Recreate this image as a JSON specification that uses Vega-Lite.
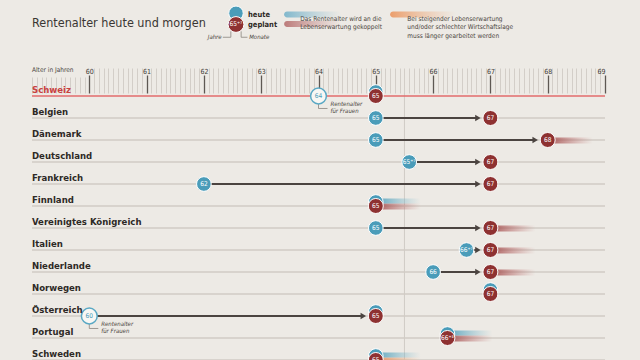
{
  "$schema": "https://vega.github.io/schema/vega-lite/v6.json",
  "width": 573,
  "height": 360,
  "autosize": {"type": "none"},
  "padding": {"left": 32, "right": 35, "top": 0, "bottom": 0},
  "background": "#edeae5",
  "config": {"view": {"stroke": null}, "font": "'DejaVu Sans Condensed', 'Liberation Sans Narrow', Roboto, sans-serif"},
  "datasets": {
    "laender": [
      {"land": "Schweiz", "reihe": 0, "heute": 65, "heuteText": "65", "geplant": 65, "geplantText": "65", "von": null, "frauen": 64, "frauenText": "64", "kopplungHeute": false, "kopplungGeplant": false, "zusatz": false},
      {"land": "Belgien", "reihe": 1, "heute": 65, "heuteText": "65", "geplant": 67, "geplantText": "67", "von": 65, "frauen": null, "frauenText": null, "kopplungHeute": false, "kopplungGeplant": false, "zusatz": false},
      {"land": "Dänemark", "reihe": 2, "heute": 65, "heuteText": "65", "geplant": 68, "geplantText": "68", "von": 65, "frauen": null, "frauenText": null, "kopplungHeute": false, "kopplungGeplant": true, "zusatz": false},
      {"land": "Deutschland", "reihe": 3, "heute": 65.5833, "heuteText": "65⁺⁷", "geplant": 67, "geplantText": "67", "von": 65.5833, "frauen": null, "frauenText": null, "kopplungHeute": false, "kopplungGeplant": false, "zusatz": false},
      {"land": "Frankreich", "reihe": 4, "heute": 62, "heuteText": "62", "geplant": 67, "geplantText": "67", "von": 62, "frauen": null, "frauenText": null, "kopplungHeute": false, "kopplungGeplant": false, "zusatz": false},
      {"land": "Finnland", "reihe": 5, "heute": 65, "heuteText": "65", "geplant": 65, "geplantText": "65", "von": null, "frauen": null, "frauenText": null, "kopplungHeute": true, "kopplungGeplant": true, "zusatz": false},
      {"land": "Vereinigtes Königreich", "reihe": 6, "heute": 65, "heuteText": "65", "geplant": 67, "geplantText": "67", "von": 65, "frauen": null, "frauenText": null, "kopplungHeute": false, "kopplungGeplant": true, "zusatz": false},
      {"land": "Italien", "reihe": 7, "heute": 66.5833, "heuteText": "66⁺⁷", "geplant": 67, "geplantText": "67", "von": 66.5833, "frauen": null, "frauenText": null, "kopplungHeute": false, "kopplungGeplant": true, "zusatz": false},
      {"land": "Niederlande", "reihe": 8, "heute": 66, "heuteText": "66", "geplant": 67, "geplantText": "67", "von": 66, "frauen": null, "frauenText": null, "kopplungHeute": false, "kopplungGeplant": true, "zusatz": false},
      {"land": "Norwegen", "reihe": 9, "heute": 67, "heuteText": "67", "geplant": 67, "geplantText": "67", "von": null, "frauen": null, "frauenText": null, "kopplungHeute": false, "kopplungGeplant": false, "zusatz": false},
      {"land": "Österreich", "reihe": 10, "heute": 65, "heuteText": "65", "geplant": 65, "geplantText": "65", "von": 60, "frauen": 60, "frauenText": "60", "kopplungHeute": false, "kopplungGeplant": false, "zusatz": false},
      {"land": "Portugal", "reihe": 11, "heute": 66.25, "heuteText": "66⁺³", "geplant": 66.25, "geplantText": "66⁺³", "von": null, "frauen": null, "frauenText": null, "kopplungHeute": true, "kopplungGeplant": true, "zusatz": false},
      {"land": "Schweden", "reihe": 12, "heute": 65, "heuteText": "65", "geplant": 65, "geplantText": "65", "von": null, "frauen": null, "frauenText": null, "kopplungHeute": true, "kopplungGeplant": false, "zusatz": true}
    ]
  },
  "data": {"values": [{}]},
  "resolve": {"axis": {"x": "independent"}},
  "layer": [
    {
      "mark": {"type": "rule", "color": "#d0cbc5", "strokeWidth": 1},
      "encoding": {
        "x": {"datum": 65.5, "type": "quantitative", "scale": {"domain": [59, 69], "nice": false, "zero": false},
          "axis": {"orient": "top", "offset": -93, "domain": false, "grid": false, "labels": false, "tickSize": 25, "tickColor": "#d3cec8", "tickWidth": 1,
            "values": [60.0833,60.1667,60.25,60.3333,60.4167,60.5,60.5833,60.6667,60.75,60.8333,60.9167,
                       61.0833,61.1667,61.25,61.3333,61.4167,61.5,61.5833,61.6667,61.75,61.8333,61.9167,
                       62.0833,62.1667,62.25,62.3333,62.4167,62.5,62.5833,62.6667,62.75,62.8333,62.9167,
                       63.0833,63.1667,63.25,63.3333,63.4167,63.5,63.5833,63.6667,63.75,63.8333,63.9167,
                       64.0833,64.1667,64.25,64.3333,64.4167,64.5,64.5833,64.6667,64.75,64.8333,64.9167,
                       65.0833,65.1667,65.25,65.3333,65.4167,65.5,65.5833,65.6667,65.75,65.8333,65.9167,
                       66.0833,66.1667,66.25,66.3333,66.4167,66.5,66.5833,66.6667,66.75,66.8333,66.9167,
                       67.0833,67.1667,67.25,67.3333,67.4167,67.5,67.5833,67.6667,67.75,67.8333,67.9167,
                       68.0833,68.1667,68.25,68.3333,68.4167,68.5,68.5833,68.6667,68.75,68.8333,68.9167]}},
        "y": {"datum": -0.14, "type": "quantitative", "scale": {"domain": [-4.3636, 12], "reverse": true, "nice": false, "zero": false}, "axis": null},
        "y2": {"datum": 12.5}
      }
    },
    {
      "data": {"name": "laender"},
      "transform": [{"filter": "datum.land !== 'Schweiz'"}],
      "mark": {"type": "rule", "color": "#d0cbc5", "strokeWidth": 1.5},
      "encoding": {
        "x": {"datum": 59, "type": "quantitative", "scale": {"domain": [59, 69], "nice": false, "zero": false},
          "axis": {"orient": "top", "offset": -93, "domain": false, "grid": false, "labels": false, "tickSize": 16, "tickColor": "#d3cec8", "tickWidth": 1,
            "values": [59, 59.0833, 59.1667, 59.25, 59.3333, 59.4167, 59.5, 59.5833, 59.6667, 59.75, 59.8333, 59.9167]}},
        "x2": {"datum": 69},
        "y": {"field": "reihe", "type": "quantitative", "scale": {"domain": [-4.3636, 12], "reverse": true, "nice": false, "zero": false}, "axis": null}
      }
    },
    {
      "data": {"name": "laender"},
      "transform": [{"filter": "datum.land === 'Schweiz'"}],
      "mark": {"type": "rule", "color": "#e26b6b", "strokeWidth": 1.3},
      "encoding": {
        "x": {"datum": 59, "type": "quantitative", "scale": {"domain": [59, 69], "nice": false, "zero": false},
          "axis": {"orient": "top", "offset": -93, "domain": false, "grid": false, "tickSize": 18, "tickColor": "#5e5853", "tickWidth": 1.3,
            "values": [60, 61, 62, 63, 64, 65, 66, 67, 68, 69], "format": "d", "labelPadding": 1,
            "labelFont": "'DejaVu Sans Condensed', 'Liberation Sans Narrow', Roboto, sans-serif", "labelFontSize": 7, "labelColor": "#3f3a36"}},
        "x2": {"datum": 69},
        "y": {"field": "reihe", "type": "quantitative", "scale": {"domain": [-4.3636, 12], "reverse": true, "nice": false, "zero": false}, "axis": null}
      }
    },
    {
      "data": {"name": "laender"},
      "transform": [{"filter": "datum.kopplungGeplant"}],
      "mark": {"type": "rect", "x2Offset": 45, "yOffset": -2.5, "y2Offset": 3.5,
        "fill": {"gradient": "linear", "x1": 0, "y1": 0, "x2": 1, "y2": 0, "stops": [{"offset": 0, "color": "rgba(160,70,70,0.9)"}, {"offset": 1, "color": "rgba(190,110,110,0)"}]}},
      "encoding": {
        "x": {"field": "geplant", "type": "quantitative", "scale": {"domain": [59, 69], "nice": false, "zero": false}, "axis": null},
        "x2": {"field": "geplant"},
        "y": {"field": "reihe", "type": "quantitative", "scale": {"domain": [-4.3636, 12], "reverse": true, "nice": false, "zero": false}, "axis": null},
        "y2": {"field": "reihe"}
      }
    },
    {
      "data": {"name": "laender"},
      "transform": [{"filter": "datum.zusatz"}],
      "mark": {"type": "rect", "x2Offset": 45, "yOffset": -2.5, "y2Offset": 3.5,
        "fill": {"gradient": "linear", "x1": 0, "y1": 0, "x2": 1, "y2": 0, "stops": [{"offset": 0, "color": "rgba(232,140,90,0.95)"}, {"offset": 1, "color": "rgba(240,170,120,0)"}]}},
      "encoding": {
        "x": {"field": "geplant", "type": "quantitative", "scale": {"domain": [59, 69], "nice": false, "zero": false}, "axis": null},
        "x2": {"field": "geplant"},
        "y": {"field": "reihe", "type": "quantitative", "scale": {"domain": [-4.3636, 12], "reverse": true, "nice": false, "zero": false}, "axis": null},
        "y2": {"field": "reihe"}
      }
    },
    {
      "data": {"name": "laender"},
      "transform": [{"filter": "datum.kopplungHeute"}],
      "mark": {"type": "rect", "x2Offset": 45, "yOffset": -7.5, "y2Offset": -2.5,
        "fill": {"gradient": "linear", "x1": 0, "y1": 0, "x2": 1, "y2": 0, "stops": [{"offset": 0, "color": "rgba(74,156,185,0.9)"}, {"offset": 1, "color": "rgba(120,185,205,0)"}]}},
      "encoding": {
        "x": {"field": "heute", "type": "quantitative", "scale": {"domain": [59, 69], "nice": false, "zero": false}, "axis": null},
        "x2": {"field": "heute"},
        "y": {"field": "reihe", "type": "quantitative", "scale": {"domain": [-4.3636, 12], "reverse": true, "nice": false, "zero": false}, "axis": null},
        "y2": {"field": "reihe"}
      }
    },
    {
      "data": {"name": "laender"},
      "transform": [{"filter": "datum.von != null"}],
      "mark": {"type": "rule", "color": "#4b4440", "strokeWidth": 2, "x2Offset": -13},
      "encoding": {
        "x": {"field": "von", "type": "quantitative", "scale": {"domain": [59, 69], "nice": false, "zero": false}, "axis": null},
        "x2": {"field": "geplant"},
        "y": {"field": "reihe", "type": "quantitative", "scale": {"domain": [-4.3636, 12], "reverse": true, "nice": false, "zero": false}, "axis": null}
      }
    },
    {
      "data": {"name": "laender"},
      "transform": [{"filter": "datum.von != null"}],
      "mark": {"type": "point", "shape": "triangle-right", "filled": true, "fill": "#4b4440", "strokeWidth": 0, "size": 40, "opacity": 1, "xOffset": -12.5},
      "encoding": {
        "x": {"field": "geplant", "type": "quantitative", "scale": {"domain": [59, 69], "nice": false, "zero": false}, "axis": null},
        "y": {"field": "reihe", "type": "quantitative", "scale": {"domain": [-4.3636, 12], "reverse": true, "nice": false, "zero": false}, "axis": null}
      }
    },
    {
      "data": {"name": "laender"},
      "transform": [{"filter": "datum.heute == datum.geplant"}],
      "mark": {"type": "point", "shape": "circle", "filled": true, "fill": "#4a9cb9", "stroke": "#ffffff", "strokeWidth": 1, "size": 215, "opacity": 1, "yOffset": -4},
      "encoding": {
        "x": {"field": "heute", "type": "quantitative", "scale": {"domain": [59, 69], "nice": false, "zero": false}, "axis": null},
        "y": {"field": "reihe", "type": "quantitative", "scale": {"domain": [-4.3636, 12], "reverse": true, "nice": false, "zero": false}, "axis": null}
      }
    },
    {
      "data": {"name": "laender"},
      "transform": [{"filter": "datum.heute != datum.geplant"}],
      "mark": {"type": "point", "shape": "circle", "filled": true, "fill": "#4a9cb9", "stroke": "#ffffff", "strokeWidth": 1, "size": 215, "opacity": 1},
      "encoding": {
        "x": {"field": "heute", "type": "quantitative", "scale": {"domain": [59, 69], "nice": false, "zero": false}, "axis": null},
        "y": {"field": "reihe", "type": "quantitative", "scale": {"domain": [-4.3636, 12], "reverse": true, "nice": false, "zero": false}, "axis": null}
      }
    },
    {
      "data": {"name": "laender"},
      "transform": [{"filter": "datum.heute != datum.geplant"}],
      "mark": {"type": "text", "color": "#ffffff", "fontSize": 6.5, "align": "center", "baseline": "middle"},
      "encoding": {
        "x": {"field": "heute", "type": "quantitative", "scale": {"domain": [59, 69], "nice": false, "zero": false}, "axis": null},
        "y": {"field": "reihe", "type": "quantitative", "scale": {"domain": [-4.3636, 12], "reverse": true, "nice": false, "zero": false}, "axis": null},
        "text": {"field": "heuteText"}
      }
    },
    {
      "data": {"name": "laender"},
      "mark": {"type": "point", "shape": "circle", "filled": true, "fill": "#8e3131", "stroke": "#ffffff", "strokeWidth": 1, "size": 225, "opacity": 1},
      "encoding": {
        "x": {"field": "geplant", "type": "quantitative", "scale": {"domain": [59, 69], "nice": false, "zero": false}, "axis": null},
        "y": {"field": "reihe", "type": "quantitative", "scale": {"domain": [-4.3636, 12], "reverse": true, "nice": false, "zero": false}, "axis": null}
      }
    },
    {
      "data": {"name": "laender"},
      "mark": {"type": "text", "color": "#ffffff", "fontSize": 6.5, "align": "center", "baseline": "middle"},
      "encoding": {
        "x": {"field": "geplant", "type": "quantitative", "scale": {"domain": [59, 69], "nice": false, "zero": false}, "axis": null},
        "y": {"field": "reihe", "type": "quantitative", "scale": {"domain": [-4.3636, 12], "reverse": true, "nice": false, "zero": false}, "axis": null},
        "text": {"field": "geplantText"}
      }
    },
    {
      "data": {"name": "laender"},
      "transform": [{"filter": "datum.frauen != null"}],
      "mark": {"type": "rule", "color": "#8a847e", "strokeWidth": 0.8, "yOffset": 8, "y2Offset": 12.5},
      "encoding": {
        "x": {"field": "frauen", "type": "quantitative", "scale": {"domain": [59, 69], "nice": false, "zero": false}, "axis": null},
        "y": {"field": "reihe", "type": "quantitative", "scale": {"domain": [-4.3636, 12], "reverse": true, "nice": false, "zero": false}, "axis": null},
        "y2": {"field": "reihe"}
      }
    },
    {
      "data": {"name": "laender"},
      "transform": [{"filter": "datum.frauen != null"}],
      "mark": {"type": "rule", "color": "#8a847e", "strokeWidth": 0.8, "yOffset": 12.5, "x2Offset": 9},
      "encoding": {
        "x": {"field": "frauen", "type": "quantitative", "scale": {"domain": [59, 69], "nice": false, "zero": false}, "axis": null},
        "x2": {"field": "frauen"},
        "y": {"field": "reihe", "type": "quantitative", "scale": {"domain": [-4.3636, 12], "reverse": true, "nice": false, "zero": false}, "axis": null}
      }
    },
    {
      "data": {"name": "laender"},
      "transform": [{"filter": "datum.frauen != null"}],
      "mark": {"type": "point", "shape": "circle", "filled": true, "fill": "#f8f7f4", "stroke": "#5aa8c4", "strokeWidth": 1.5, "size": 250, "opacity": 1},
      "encoding": {
        "x": {"field": "frauen", "type": "quantitative", "scale": {"domain": [59, 69], "nice": false, "zero": false}, "axis": null},
        "y": {"field": "reihe", "type": "quantitative", "scale": {"domain": [-4.3636, 12], "reverse": true, "nice": false, "zero": false}, "axis": null}
      }
    },
    {
      "data": {"name": "laender"},
      "transform": [{"filter": "datum.frauen != null"}],
      "mark": {"type": "text", "color": "#4a9cb9", "fontSize": 6.5, "align": "center", "baseline": "middle"},
      "encoding": {
        "x": {"field": "frauen", "type": "quantitative", "scale": {"domain": [59, 69], "nice": false, "zero": false}, "axis": null},
        "y": {"field": "reihe", "type": "quantitative", "scale": {"domain": [-4.3636, 12], "reverse": true, "nice": false, "zero": false}, "axis": null},
        "text": {"field": "frauenText"}
      }
    },
    {
      "data": {"name": "laender"},
      "transform": [{"filter": "datum.frauen != null"}],
      "mark": {"type": "text", "color": "#4b4540", "fontSize": 6, "fontStyle": "italic", "align": "left", "baseline": "top", "dx": 12, "dy": 5, "lineHeight": 7},
      "encoding": {
        "x": {"field": "frauen", "type": "quantitative", "scale": {"domain": [59, 69], "nice": false, "zero": false}, "axis": null},
        "y": {"field": "reihe", "type": "quantitative", "scale": {"domain": [-4.3636, 12], "reverse": true, "nice": false, "zero": false}, "axis": null},
        "text": {"value": ["Rentenalter", "für Frauen"]}
      }
    },
    {
      "data": {"name": "laender"},
      "mark": {"type": "text", "fontSize": 9.5, "fontWeight": "bold", "align": "left", "baseline": "alphabetic", "dy": -3},
      "encoding": {
        "x": {"datum": 59, "type": "quantitative", "scale": {"domain": [59, 69], "nice": false, "zero": false}, "axis": null},
        "y": {"field": "reihe", "type": "quantitative", "scale": {"domain": [-4.3636, 12], "reverse": true, "nice": false, "zero": false}, "axis": null},
        "text": {"field": "land"},
        "color": {"condition": {"test": "datum.land === 'Schweiz'", "value": "#c8413f"}, "value": "#2d2926"}
      }
    },
    {
      "mark": {"type": "text", "fontSize": 12.5, "color": "#3a3633", "align": "left", "baseline": "middle"},
      "encoding": {
        "x": {"datum": 59, "type": "quantitative", "scale": {"domain": [59, 69], "nice": false, "zero": false}, "axis": null},
        "y": {"datum": -3.34, "type": "quantitative", "scale": {"domain": [-4.3636, 12], "reverse": true, "nice": false, "zero": false}, "axis": null},
        "text": {"value": "Rentenalter heute und morgen"}
      }
    },
    {
      "mark": {"type": "text", "fontSize": 6.5, "color": "#4a4541", "align": "left", "baseline": "middle"},
      "encoding": {
        "x": {"datum": 59, "type": "quantitative", "scale": {"domain": [59, 69], "nice": false, "zero": false}, "axis": null},
        "y": {"datum": -1.18, "type": "quantitative", "scale": {"domain": [-4.3636, 12], "reverse": true, "nice": false, "zero": false}, "axis": null},
        "text": {"value": "Alter in Jahren"}
      }
    },
    {
      "mark": {"type": "point", "shape": "circle", "filled": true, "fill": "#4a9cb9", "stroke": "#ffffff", "strokeWidth": 1, "size": 210, "opacity": 1},
      "encoding": {
        "x": {"datum": 62.56, "type": "quantitative", "scale": {"domain": [59, 69], "nice": false, "zero": false}, "axis": null},
        "y": {"datum": -3.76, "type": "quantitative", "scale": {"domain": [-4.3636, 12], "reverse": true, "nice": false, "zero": false}, "axis": null}
      }
    },
    {
      "mark": {"type": "point", "shape": "circle", "filled": true, "fill": "#8e3131", "stroke": "#ffffff", "strokeWidth": 1, "size": 250, "opacity": 1},
      "encoding": {
        "x": {"datum": 62.56, "type": "quantitative", "scale": {"domain": [59, 69], "nice": false, "zero": false}, "axis": null},
        "y": {"datum": -3.25, "type": "quantitative", "scale": {"domain": [-4.3636, 12], "reverse": true, "nice": false, "zero": false}, "axis": null}
      }
    },
    {
      "mark": {"type": "text", "color": "#ffffff", "fontSize": 6.5, "align": "center", "baseline": "middle"},
      "encoding": {
        "x": {"datum": 62.56, "type": "quantitative", "scale": {"domain": [59, 69], "nice": false, "zero": false}, "axis": null},
        "y": {"datum": -3.25, "type": "quantitative", "scale": {"domain": [-4.3636, 12], "reverse": true, "nice": false, "zero": false}, "axis": null},
        "text": {"value": "65⁺⁷"}
      }
    },
    {
      "mark": {"type": "text", "color": "#2d2926", "fontSize": 7.5, "fontWeight": "bold", "align": "left", "baseline": "middle", "lineHeight": 10},
      "encoding": {
        "x": {"datum": 62.77, "type": "quantitative", "scale": {"domain": [59, 69], "nice": false, "zero": false}, "axis": null},
        "y": {"datum": -3.66, "type": "quantitative", "scale": {"domain": [-4.3636, 12], "reverse": true, "nice": false, "zero": false}, "axis": null},
        "text": {"value": ["heute", "geplant"]}
      }
    },
    {
      "mark": {"type": "text", "color": "#4b4540", "fontSize": 6, "fontStyle": "italic", "align": "right", "baseline": "middle"},
      "encoding": {
        "x": {"datum": 62.31, "type": "quantitative", "scale": {"domain": [59, 69], "nice": false, "zero": false}, "axis": null},
        "y": {"datum": -2.67, "type": "quantitative", "scale": {"domain": [-4.3636, 12], "reverse": true, "nice": false, "zero": false}, "axis": null},
        "text": {"value": "Jahre"}
      }
    },
    {
      "mark": {"type": "text", "color": "#4b4540", "fontSize": 6, "fontStyle": "italic", "align": "left", "baseline": "middle"},
      "encoding": {
        "x": {"datum": 62.79, "type": "quantitative", "scale": {"domain": [59, 69], "nice": false, "zero": false}, "axis": null},
        "y": {"datum": -2.67, "type": "quantitative", "scale": {"domain": [-4.3636, 12], "reverse": true, "nice": false, "zero": false}, "axis": null},
        "text": {"value": "Monate"}
      }
    },
    {
      "mark": {"type": "rule", "color": "#8a847e", "strokeWidth": 0.8},
      "encoding": {
        "x": {"datum": 62.33, "type": "quantitative", "scale": {"domain": [59, 69], "nice": false, "zero": false}, "axis": null},
        "x2": {"datum": 62.47},
        "y": {"datum": -2.67, "type": "quantitative", "scale": {"domain": [-4.3636, 12], "reverse": true, "nice": false, "zero": false}, "axis": null}
      }
    },
    {
      "mark": {"type": "rule", "color": "#8a847e", "strokeWidth": 0.8},
      "encoding": {
        "x": {"datum": 62.47, "type": "quantitative", "scale": {"domain": [59, 69], "nice": false, "zero": false}, "axis": null},
        "y": {"datum": -2.94, "type": "quantitative", "scale": {"domain": [-4.3636, 12], "reverse": true, "nice": false, "zero": false}, "axis": null},
        "y2": {"datum": -2.67}
      }
    },
    {
      "mark": {"type": "rule", "color": "#8a847e", "strokeWidth": 0.8},
      "encoding": {
        "x": {"datum": 62.65, "type": "quantitative", "scale": {"domain": [59, 69], "nice": false, "zero": false}, "axis": null},
        "y": {"datum": -2.94, "type": "quantitative", "scale": {"domain": [-4.3636, 12], "reverse": true, "nice": false, "zero": false}, "axis": null},
        "y2": {"datum": -2.67}
      }
    },
    {
      "mark": {"type": "rule", "color": "#8a847e", "strokeWidth": 0.8},
      "encoding": {
        "x": {"datum": 62.65, "type": "quantitative", "scale": {"domain": [59, 69], "nice": false, "zero": false}, "axis": null},
        "x2": {"datum": 62.76},
        "y": {"datum": -2.67, "type": "quantitative", "scale": {"domain": [-4.3636, 12], "reverse": true, "nice": false, "zero": false}, "axis": null}
      }
    },
    {
      "mark": {"type": "rect", "cornerRadius": 3,
        "fill": {"gradient": "linear", "x1": 0, "y1": 0, "x2": 1, "y2": 0, "stops": [{"offset": 0, "color": "rgba(110,175,200,0.85)"}, {"offset": 1, "color": "rgba(140,190,210,0)"}]}},
      "encoding": {
        "x": {"datum": 63.4, "type": "quantitative", "scale": {"domain": [59, 69], "nice": false, "zero": false}, "axis": null},
        "x2": {"datum": 64.4},
        "y": {"datum": -3.84, "type": "quantitative", "scale": {"domain": [-4.3636, 12], "reverse": true, "nice": false, "zero": false}, "axis": null},
        "y2": {"datum": -3.57}
      }
    },
    {
      "mark": {"type": "rect", "cornerRadius": 3,
        "fill": {"gradient": "linear", "x1": 0, "y1": 0, "x2": 1, "y2": 0, "stops": [{"offset": 0, "color": "rgba(175,95,95,0.8)"}, {"offset": 1, "color": "rgba(190,120,120,0)"}]}},
      "encoding": {
        "x": {"datum": 63.4, "type": "quantitative", "scale": {"domain": [59, 69], "nice": false, "zero": false}, "axis": null},
        "x2": {"datum": 64.4},
        "y": {"datum": -3.41, "type": "quantitative", "scale": {"domain": [-4.3636, 12], "reverse": true, "nice": false, "zero": false}, "axis": null},
        "y2": {"datum": -3.14}
      }
    },
    {
      "mark": {"type": "rect", "cornerRadius": 3,
        "fill": {"gradient": "linear", "x1": 0, "y1": 0, "x2": 1, "y2": 0, "stops": [{"offset": 0, "color": "rgba(235,150,95,0.9)"}, {"offset": 1, "color": "rgba(240,175,130,0)"}]}},
      "encoding": {
        "x": {"datum": 65.25, "type": "quantitative", "scale": {"domain": [59, 69], "nice": false, "zero": false}, "axis": null},
        "x2": {"datum": 66.4},
        "y": {"datum": -3.84, "type": "quantitative", "scale": {"domain": [-4.3636, 12], "reverse": true, "nice": false, "zero": false}, "axis": null},
        "y2": {"datum": -3.57}
      }
    },
    {
      "mark": {"type": "text", "color": "#4b4540", "fontSize": 6.5, "align": "left", "baseline": "middle", "lineHeight": 8.5},
      "encoding": {
        "x": {"datum": 63.68, "type": "quantitative", "scale": {"domain": [59, 69], "nice": false, "zero": false}, "axis": null},
        "y": {"datum": -3.5, "type": "quantitative", "scale": {"domain": [-4.3636, 12], "reverse": true, "nice": false, "zero": false}, "axis": null},
        "text": {"value": ["Das Rentenalter wird an die", "Lebenserwartung gekoppelt"]}
      }
    },
    {
      "mark": {"type": "text", "color": "#4b4540", "fontSize": 6.5, "align": "left", "baseline": "middle", "lineHeight": 8.5},
      "encoding": {
        "x": {"datum": 65.55, "type": "quantitative", "scale": {"domain": [59, 69], "nice": false, "zero": false}, "axis": null},
        "y": {"datum": -3.5, "type": "quantitative", "scale": {"domain": [-4.3636, 12], "reverse": true, "nice": false, "zero": false}, "axis": null},
        "text": {"value": ["Bei steigender Lebenserwartung", "und/oder schlechter Wirtschaftslage", "muss länger gearbeitet werden"]}
      }
    }
  ]
}
